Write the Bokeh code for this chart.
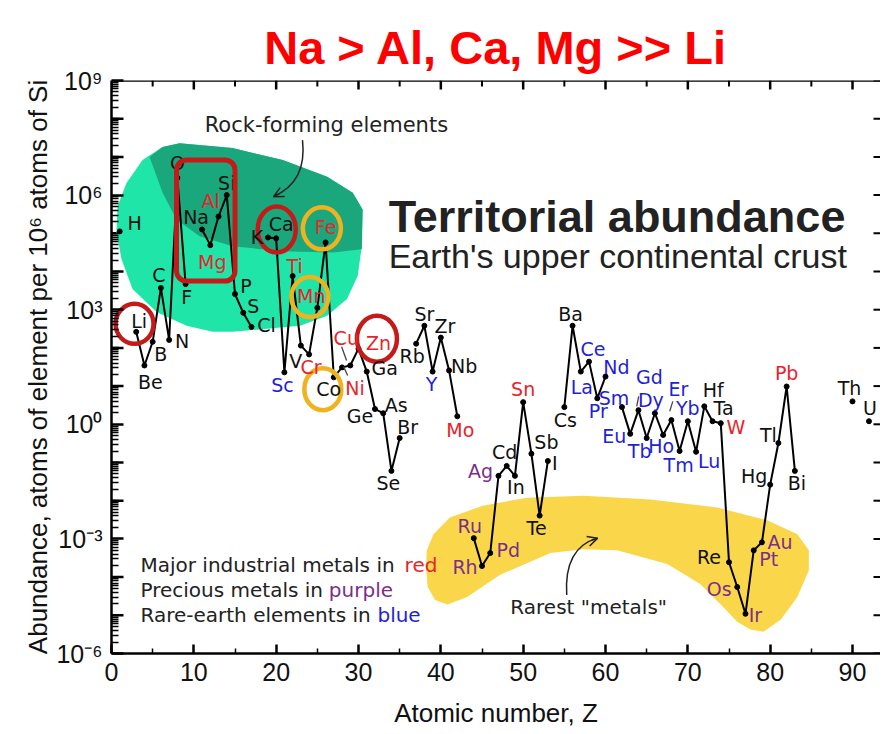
import math
from bokeh.plotting import figure
from bokeh.models import (Range1d, FixedTicker, CustomJSTickFormatter, Span,
                          ColumnDataSource, BoxAnnotation, Arrow, OpenHead)
from bokeh.core.properties import value
from bokeh.embed import file_html
from bokeh.resources import INLINE

# ---------------- data ----------------
symbols = ["H", "He", "Li", "Be", "B", "C", "N", "O", "F", "Ne",
           "Na", "Mg", "Al", "Si", "P", "S", "Cl", "Ar", "K", "Ca",
           "Sc", "Ti", "V", "Cr", "Mn", "Fe", "Co", "Ni", "Cu", "Zn",
           "Ga", "Ge", "As", "Se", "Br", "Kr", "Rb", "Sr", "Y", "Zr",
           "Nb", "Mo", "Tc", "Ru", "Rh", "Pd", "Ag", "Cd", "In", "Sn",
           "Sb", "Te", "I", "Xe", "Cs", "Ba", "La", "Ce", "Pr", "Nd",
           "Pm", "Sm", "Eu", "Gd", "Tb", "Dy", "Ho", "Er", "Tm", "Yb",
           "Lu", "Hf", "Ta", "W", "Re", "Os", "Ir", "Pt", "Au", "Hg",
           "Tl", "Pb", "Bi", "Po", "At", "Rn", "Fr", "Ra", "Ac", "Th",
           "Pa", "U"]
# log10 of abundance (atoms per 1e6 atoms of Si); None = not shown
log_abundance = [5.05, None, 2.42, 1.54, 2.16, 3.57, 2.21, 6.45, 3.67, None,
                 5.10, 4.69, 5.44, 6.00, 3.41, 2.92, 2.55, None, 4.89, 4.87,
                 1.36, 3.88, 2.06, 1.83, 3.05, 4.76, 1.23, 1.49, 1.54, 1.98,
                 1.38, 0.40, 0.29, -1.22, -0.36, None, 2.11, 2.58, 1.38, 2.27,
                 1.41, 0.21, None, -2.98, -3.71, -3.37, -1.35, -1.09, -1.35, 0.58,
                 -0.77, -2.39, -0.96, None, 0.45, 2.58, 1.38, 1.64, 0.68, 1.25,
                 None, 0.45, -0.25, 0.37, -0.36, 0.29, -0.28, 0.11, -0.70, 0.08,
                 -0.72, 0.47, 0.08, 0.03, -3.61, -4.26, -4.96, -3.30, -3.09, -1.58,
                 -0.49, 0.99, -1.22, None, None, None, None, None, None, 0.60,
                 None, 0.08]
red_metals = ["Mg", "Al", "Ti", "Cr", "Mn", "Fe", "Ni", "Cu", "Zn", "Mo", "Sn", "W", "Pb"]
precious_metals = ["Ru", "Rh", "Pd", "Ag", "Os", "Ir", "Pt", "Au"]
rare_earths = ["Sc", "Y", "La", "Ce", "Pr", "Nd", "Sm", "Eu", "Gd", "Tb", "Dy", "Ho",
               "Er", "Tm", "Yb", "Lu"]

x_ticks = [0, 10, 20, 30, 40, 50, 60, 70, 80, 90]
x_minor = [5, 15, 25, 35, 45, 55, 65, 75, 85]
y_decades = list(range(-6, 10))
y_labelled = [-6, -3, 0, 3, 6, 9]

# label placement (screen px offsets from the point)
label_offsets = {
    "H": (15, -8), "Li": (3, -11), "Be": (6, 17), "B": (8, 12), "C": (-2, -13), "N": (13, 1),
    "O": (0, -15), "F": (1, 13), "Na": (-6, -12), "Mg": (2, 17), "Al": (-8, -15), "Si": (0, -12),
    "P": (11, -8), "S": (10, -7), "Cl": (15, -2), "K": (-11, -1), "Ca": (5, -14), "Sc": (-2, 13),
    "Ti": (2, -10), "V": (-5, 15), "Cr": (2, 13), "Mn": (-6, -12), "Fe": (0, -15), "Co": (-5, 12),
    "Ni": (13, 21), "Cu": (-4, -27), "Zn": (20, -6), "Ga": (18, -4), "Ge": (-15, 7), "As": (13, -8),
    "Se": (-3, 12), "Br": (8, -11), "Rb": (-4, 12), "Sr": (0, -12), "Y": (-1, 12), "Zr": (4, -12),
    "Nb": (15, -4), "Mo": (3, 14), "Ru": (-4, -12), "Rh": (-17, 1), "Pd": (18, -3), "Ag": (-18, -5),
    "Cd": (-2, -14), "In": (1, 11), "Sn": (0, -13), "Sb": (15, -12), "Te": (-3, 12), "I": (7, 2),
    "Cs": (1, 13), "Ba": (-2, -12), "La": (1, 15), "Ce": (4, -13), "Pr": (1, 13), "Nd": (11, -10),
    "Sm": (-8, -9), "Eu": (-16, 2), "Gd": (11, -33), "Tb": (-7, 13), "Dy": (-4, -13), "Ho": (-2, 11),
    "Er": (7, -31), "Tm": (-1, 14), "Yb": (0, -13), "Lu": (13, 9), "Hf": (9, -16), "Ta": (11, -13),
    "W": (15, 4), "Re": (-20, -5), "Os": (-18, 2), "Ir": (10, 1), "Pt": (15, 9), "Au": (18, 0),
    "Hg": (-16, -9), "Tl": (-10, -8), "Pb": (0, -13), "Bi": (2, 12), "Th": (-3, -13), "U": (1, -13),
}

# decorative regions (Z, log10 abundance)
green_z = [0.73, 1.82, 3.77, 6.2, 8.27, 14.7, 20.8, 26.2, 29.3, 30.5, 30.4, 29.9, 28.6, 26.2,
           22.9, 18.9, 14.7, 12.3, 9.12, 5.47, 2.55, 1.22, 0.61]
green_log = [5.70, 6.32, 6.92, 7.26, 7.36, 7.23, 6.92, 6.48, 6.06, 5.62, 4.66, 3.88, 3.28, 2.84,
             2.58, 2.50, 2.42, 2.42, 2.58, 2.94, 3.54, 4.32, 5.02]
dark_z = [4.62, 6.2, 8.27, 14.7, 20.8, 26.2, 29.3, 30.5, 30.4, 26.9, 20.8, 14.7, 10.7, 7.9, 6.2, 5.2]
dark_log = [7.0, 7.26, 7.36, 7.23, 6.92, 6.48, 6.06, 5.62, 4.58, 4.50, 4.53, 4.66, 4.92, 5.36, 6.06, 6.66]
yellow_z = [38.3, 39.1, 41.1, 45.1, 50.5, 57.3, 65.5, 73.6, 79.7, 83.3, 84.7, 84.7, 83.3, 81.3,
            79.2, 77.6, 76.0, 74.3, 71.5, 67.5, 61.4, 57.3, 53.3, 47.2, 43.2, 40.8, 39.3, 38.4, 38.2]
yellow_log = [-3.30, -2.88, -2.44, -2.13, -1.92, -1.87, -1.97, -2.18, -2.52, -2.88, -3.30, -3.82,
              -4.52, -5.11, -5.43, -5.37, -5.17, -4.78, -4.18, -3.66, -3.30, -3.27, -3.37, -3.94,
              -4.52, -4.72, -4.60, -4.26, -3.74]

red_ring_z = [2.80, 20.07, 32.24]
red_ring_log = [2.63, 5.10, 2.24]
red_ring_w = [38, 38, 40]
red_ring_h = [40, 46, 46]
gold_ring_z = [25.55, 24.09, 25.67]
gold_ring_log = [5.13, 3.33, 0.92]
gold_ring_w = [38, 37, 37]
gold_ring_h = [42, 40, 42]

leader_z0 = [27.95, 28.19, 64.03, 68.17]
leader_l0 = [2.03, 1.51, 0.73, 0.60]
leader_z1 = [28.55, 28.68, 63.79, 67.80]
leader_l1 = [1.67, 1.28, 0.47, 0.34]

# ---------------- styling ----------------
SANS = "Liberation Sans"
LAB = "DejaVu Sans"
RED = "#e8242a"
PURPLE = "#7c2e8c"
BLUE = "#1f1fd6"
X_END = 93.4

p = figure(width=880, height=730, x_range=Range1d(0, X_END), y_range=Range1d(1e-6, 1e9),
           y_axis_type="log", output_backend="svg", toolbar_location=None,
           min_border_left=111, min_border_right=0, min_border_top=80, min_border_bottom=73)
p.outline_line_color = None
p.xgrid.grid_line_color = None
p.ygrid.grid_line_color = None

p.title.text = "Na > Al, Ca, Mg >> Li"
p.title.align = "center"
p.title.text_color = "#ff0000"
p.title.text_font = SANS
p.title.text_font_style = "bold"
p.title.text_font_size = "47px"
p.title.standoff = 14
p.title.offset = 10

y_ticker = FixedTicker(ticks=[10.0 ** k for k in y_labelled],
                       minor_ticks=[m * 10.0 ** k for k in y_decades[:-1] for m in range(1, 10)
                                    if not (m == 1 and k in y_labelled)])
x_ticker = FixedTicker(ticks=x_ticks, minor_ticks=x_minor)
fmt = CustomJSTickFormatter(code="""
const e = Math.round(Math.log10(tick));
const m = {"-":"\u207b","0":"\u2070","1":"\u00b9","2":"\u00b2","3":"\u00b3","4":"\u2074",
           "5":"\u2075","6":"\u2076","7":"\u2077","8":"\u2078","9":"\u2079"};
return "10" + String(e).split("").map(c => m[c]).join("");
""")

def style_axis(ax, major_in, minor_in):
    ax.axis_line_width = 2.5
    ax.axis_line_color = "black"
    ax.major_tick_in = major_in
    ax.major_tick_out = 0
    ax.minor_tick_in = minor_in
    ax.minor_tick_out = 0
    ax.major_tick_line_width = 2.5
    ax.minor_tick_line_width = 1.5
    ax.major_label_text_font = SANS
    ax.major_label_text_color = "#111"
    ax.axis_label_text_font = SANS
    ax.axis_label_text_font_style = "normal"
    ax.axis_label_text_color = "#111"

xa = p.xaxis[0]
xa.ticker = x_ticker
style_axis(xa, 9, 5)
xa.major_label_text_font_size = "25px"
xa.major_label_standoff = 9
xa.axis_label = "Atomic number, Z"
xa.axis_label_text_font_size = "26px"
xa.axis_label_standoff = 14

ya = p.yaxis[0]
ya.ticker = y_ticker
ya.formatter = fmt
style_axis(ya, 12, 7)
ya.major_label_text_font_size = "25px"
ya.major_label_standoff = 9
ya.axis_label = "Abundance, atoms of element per 10\u2076 atoms of Si"
ya.axis_label_text_font_size = "26px"
ya.axis_label_standoff = 0

# long ticks for the unlabelled decades, top and right frame ticks
mid_dec = [10.0 ** k for k in y_decades if k not in y_labelled]
p.ray([0] * len(mid_dec), mid_dec, length=12, length_units="screen", angle=0,
      line_color="black", line_width=2.5)
p.add_layout(Span(location=1e9, dimension="width", line_color="black", line_width=2.5))
p.ray(x_ticks, [1e9] * len(x_ticks), length=9, length_units="screen", angle=-math.pi / 2,
      line_color="black", line_width=2.5)
p.ray(x_minor, [1e9] * len(x_minor), length=6, length_units="screen", angle=-math.pi / 2,
      line_color="black", line_width=2)
all_dec = [10.0 ** k for k in y_decades]
p.ray([X_END] * len(all_dec), all_dec, length=7, length_units="screen", angle=math.pi,
      line_color="black", line_width=2)

# ---------------- regions ----------------
p.patch(green_z, [10 ** v for v in green_log], fill_color="#1fe6a8", line_color=None)
p.patch(dark_z, [10 ** v for v in dark_log], fill_color="#1ba77c", line_color=None)
p.patch(yellow_z, [10 ** v for v in yellow_log], fill_color="#fad64b", line_color=None)

# ---------------- data line ----------------
Z = list(range(1, len(symbols) + 1))
Y = [10 ** v if v is not None else float("nan") for v in log_abundance]
p.line(Z, Y, line_color="black", line_width=2)

zs, ys, texts, cols, dxs, dys = [], [], [], [], [], []
for z, s, v in zip(Z, symbols, log_abundance):
    if v is None:
        continue
    zs.append(z)
    ys.append(10 ** v)
    texts.append(s)
    cols.append(RED if s in red_metals else PURPLE if s in precious_metals
                else BLUE if s in rare_earths else "#111111")
    dx, dy = label_offsets[s]
    dxs.append(dx)
    dys.append(dy)
src = ColumnDataSource(dict(x=zs, y=ys, text=texts, color=cols, dx=dxs, dy=dys))
p.scatter("x", "y", source=src, size=5, color="black")

p.segment(leader_z0, [10 ** v for v in leader_l0], leader_z1, [10 ** v for v in leader_l1],
          line_color="#444", line_width=1.3)

# ---------------- highlight rings ----------------
p.ellipse(red_ring_z, [10 ** v for v in red_ring_log], width=red_ring_w, height=red_ring_h,
          width_units="screen", height_units="screen", fill_color=None,
          line_color="#c41a1a", line_width=4.5)
p.ellipse(gold_ring_z, [10 ** v for v in gold_ring_log], width=gold_ring_w, height=gold_ring_h,
          width_units="screen", height_units="screen", fill_color=None,
          line_color="#f0b21e", line_width=4.5)
p.add_layout(BoxAnnotation(left=7.9, right=15.0, bottom=10 ** 3.75, top=10 ** 6.92,
                           fill_alpha=0, line_color="#c41a1a", line_alpha=1.0,
                           line_width=5, border_radius=10))

p.text("x", "y", text="text", source=src, text_color="color", x_offset="dx", y_offset="dy",
       text_align="center", text_baseline="middle", text_font=value(LAB), text_font_size="19px")

# ---------------- annotations ----------------
def txt(z, lg, s, size, color="#222222", font=LAB, align="center", style="normal",
        baseline="middle"):
    p.text([z], [10 ** lg], text=[s], text_color=color, text_font=value(font),
           text_font_size=size, text_align=align, text_baseline=baseline, text_font_style=style)

txt(26.1, 7.83, "Rock-forming elements", "21px")
txt(57.96, -4.78, "Rarest \"metals\"", "20px")
txt(33.66, 5.44, "Territorial abundance", "45px", font=SANS, align="left", style="bold",
    baseline="alphabetic")
txt(33.66, 4.40, "Earth's upper continental crust", "34px", font=SANS, align="left",
    baseline="alphabetic")

txt(3.52, -3.69, "Major industrial metals in", "20px", align="left")
txt(35.6, -3.69, "red", "20px", color=RED, align="left")
txt(3.52, -4.34, "Precious metals in", "20px", align="left")
txt(26.4, -4.34, "purple", "20px", color=PURPLE, align="left")
txt(3.52, -4.98, "Rare-earth elements in", "20px", align="left")
txt(32.3, -4.98, "blue", "20px", color=BLUE, align="left")

# curved arrows
p.bezier(x0=[23.2], y0=[10 ** 7.44], x1=[19.68], y1=[10 ** 5.96],
         cx0=[23.57], cy0=[10 ** 6.71], cx1=[22.48], cy1=[10 ** 6.24],
         line_color="#222", line_width=1.5)
p.add_layout(Arrow(end=OpenHead(size=10, line_width=1.5, line_color="#222"),
                   x_start=20.41, y_start=10 ** 6.04, x_end=19.68, y_end=10 ** 5.96,
                   line_color="#222", line_width=1.5))
p.bezier(x0=[55.29], y0=[10 ** -4.47], x1=[59.05], y1=[10 ** -2.98],
         cx0=[55.04], cy0=[10 ** -3.61], cx1=[56.38], cy1=[10 ** -3.14],
         line_color="#222", line_width=1.5)
p.add_layout(Arrow(end=OpenHead(size=10, line_width=1.5, line_color="#222"),
                   x_start=58.32, y_start=10 ** -3.03, x_end=59.05, y_end=10 ** -2.98,
                   line_color="#222", line_width=1.5))

open("out.html", "w").write(file_html(p, INLINE))
